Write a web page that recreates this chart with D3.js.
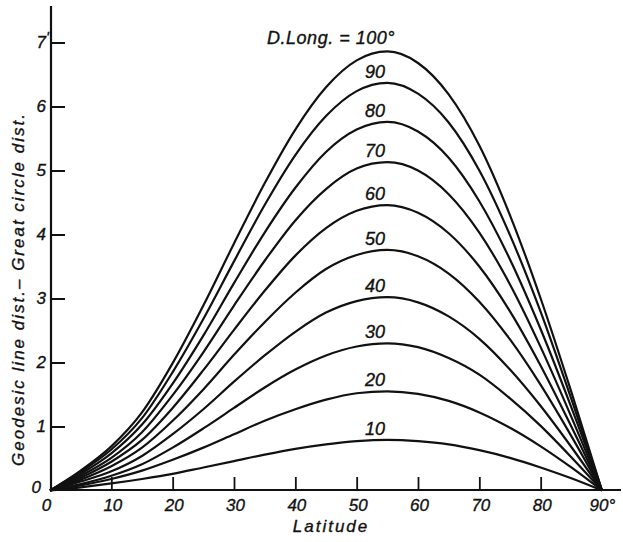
<html>
<head>
<title>Geodesic vs great circle</title>
<script src="https://cdn.jsdelivr.net/npm/d3@7/dist/d3.min.js"></script>
<style>
body { margin: 0; background: #fff; }
svg { display: block; }
text { font-family: 'Liberation Sans', Arial, sans-serif; font-style: italic; fill: #111; stroke: #111; stroke-width: 0.35px; }
path.curve { fill: none; stroke: #111; stroke-width: 2.2; }
</style>
</head>
<body>

<svg height="542" width="623"></svg>

<script>

var svg = d3.select("svg");

// latitude steps (degrees)
var latitudes = [0, 5, 10, 15, 20, 25, 30, 35, 40, 45, 50, 55, 60, 65, 70, 75, 80, 85, 90];

// difference in minutes, one list per D.Long.
var dl100 = [0, 0.31, 0.69, 1.22, 1.99, 2.89, 3.86, 4.80, 5.64, 6.30, 6.72, 6.86, 6.68, 6.19, 5.39, 4.30, 3.00, 1.54, 0];
var dl90  = [0, 0.29, 0.64, 1.13, 1.85, 2.68, 3.58, 4.46, 5.24, 5.85, 6.24, 6.37, 6.20, 5.75, 5.00, 3.99, 2.79, 1.43, 0];
var dl80  = [0, 0.26, 0.58, 1.03, 1.67, 2.42, 3.24, 4.03, 4.73, 5.29, 5.64, 5.76, 5.61, 5.20, 4.52, 3.61, 2.52, 1.30, 0];
var dl70  = [0, 0.23, 0.51, 0.91, 1.49, 2.16, 2.89, 3.59, 4.22, 4.71, 5.03, 5.13, 5.00, 4.63, 4.03, 3.22, 2.24, 1.15, 0];
var dl60  = [0, 0.20, 0.45, 0.79, 1.29, 1.88, 2.51, 3.12, 3.67, 4.10, 4.37, 4.46, 4.34, 4.02, 3.50, 2.80, 1.95, 1.00, 0];
var dl50  = [0, 0.17, 0.38, 0.67, 1.09, 1.58, 2.12, 2.63, 3.09, 3.46, 3.68, 3.76, 3.66, 3.39, 2.95, 2.36, 1.65, 0.85, 0];
var dl40  = [0, 0.14, 0.30, 0.54, 0.88, 1.27, 1.70, 2.11, 2.48, 2.78, 2.96, 3.02, 2.94, 2.72, 2.37, 1.89, 1.32, 0.68, 0];
var dl30  = [0, 0.10, 0.23, 0.41, 0.67, 0.97, 1.29, 1.61, 1.89, 2.11, 2.25, 2.30, 2.24, 2.07, 1.81, 1.44, 1.01, 0.52, 0];
var dl20  = [0, 0.08, 0.18, 0.31, 0.48, 0.67, 0.88, 1.09, 1.27, 1.42, 1.52, 1.55, 1.51, 1.40, 1.22, 0.98, 0.69, 0.36, 0];
var dl10  = [0, 0.05, 0.11, 0.18, 0.26, 0.36, 0.46, 0.56, 0.65, 0.72, 0.77, 0.79, 0.77, 0.72, 0.63, 0.51, 0.36, 0.19, 0];

var dLongs = [100, 90, 80, 70, 60, 50, 40, 30, 20, 10];
var curveLabels = ["D.Long. = 100°", "90", "80", "70", "60", "50", "40", "30", "20", "10"];
var seriesList = [dl100, dl90, dl80, dl70, dl60, dl50, dl40, dl30, dl20, dl10];

var xTicks = [0, 10, 20, 30, 40, 50, 60, 70, 80, 90];
var yTicks = [1, 2, 3, 4, 5, 6, 7];

var x = d3.scaleLinear().domain([0, 90]).range([50, 602]);
var y = d3.scaleLinear().domain([0, 7]).range([490.5, 42.5]);

var line = d3.line()
	.x(function (d) { return x(d[0]); })
	.y(function (d) { return y(d[1]); })
	.curve(d3.curveMonotoneX);

// axes lines drawn by hand, ticks through d3 axes
svg.append("line")
	.attr("x1", 51).attr("x2", 51).attr("y1", 6).attr("y2", 491)
	.attr("stroke", "#111").attr("stroke-width", 2.2);
svg.append("line")
	.attr("x1", 50).attr("x2", 621).attr("y1", 490).attr("y2", 490)
	.attr("stroke", "#111").attr("stroke-width", 2.2);

var xAxis = svg.append("g")
	.attr("transform", "translate(0,490)")
	.call(d3.axisBottom(x).tickValues(xTicks).tickSizeInner(-13).tickSizeOuter(0).tickPadding(9)
		.tickFormat(function (d) { return d == 90 ? "90°" : d; }));
xAxis.select(".domain").remove();
xAxis.selectAll(".tick line").attr("stroke", "#111").attr("stroke-width", 1.8)
	.filter(function (d) { return d == 0 || d == 90; }).remove();
xAxis.selectAll(".tick text")
	.style("font-size", "17px").attr("fill", "#111")
	.attr("text-anchor", function (d) { return d == 90 ? "start" : "middle"; })
	.attr("dx", function (d) { return d == 90 ? -13 : (d == 0 ? -4 : 1); });

var yAxis = svg.append("g")
	.attr("transform", "translate(51,0)")
	.call(d3.axisLeft(y).tickValues(yTicks).tickFormat(d3.format("d"))
		.tickSizeInner(-14).tickSizeOuter(0).tickPadding(5));
yAxis.select(".domain").remove();
yAxis.selectAll(".tick line").attr("stroke", "#111").attr("stroke-width", 2);
yAxis.selectAll(".tick text").style("font-size", "17px").attr("fill", "#111");

// the minute mark after 7
svg.append("text").attr("x", 46).attr("y", y(7) - 1).style("font-size", "15px").text("'");

// zero at the origin
svg.append("text").attr("x", 41).attr("y", 487).attr("dy", "0.35em")
	.attr("text-anchor", "end").style("font-size", "17px").text("0");

seriesList.forEach(function (vals, i) {
	var pts = latitudes.map(function (lat, j) { return [lat, vals[j]]; });
	svg.append("path").attr("class", "curve").attr("d", line(pts));

	var peak = d3.max(vals);
	svg.append("text")
		.attr("x", i == 0 ? 331 : x(53))
		.attr("y", y(peak) - (i == 0 ? 7 : 5))
		.attr("text-anchor", "middle")
		.style("font-size", i == 0 ? "18px" : "18px")
		.style("letter-spacing", i == 0 ? "0.5px" : "0px")
		.text(curveLabels[i]);
});

svg.append("text")
	.attr("x", 331).attr("y", 532)
	.attr("text-anchor", "middle")
	.style("font-size", "17px").style("letter-spacing", "2px")
	.text("Latitude");

svg.append("text")
	.attr("transform", "translate(24,289) rotate(-90)")
	.attr("text-anchor", "middle")
	.style("font-size", "17px").style("letter-spacing", "2px")
	.text("Geodesic line dist.\u2013 Great circle dist.");

</script>
</body>
</html>
